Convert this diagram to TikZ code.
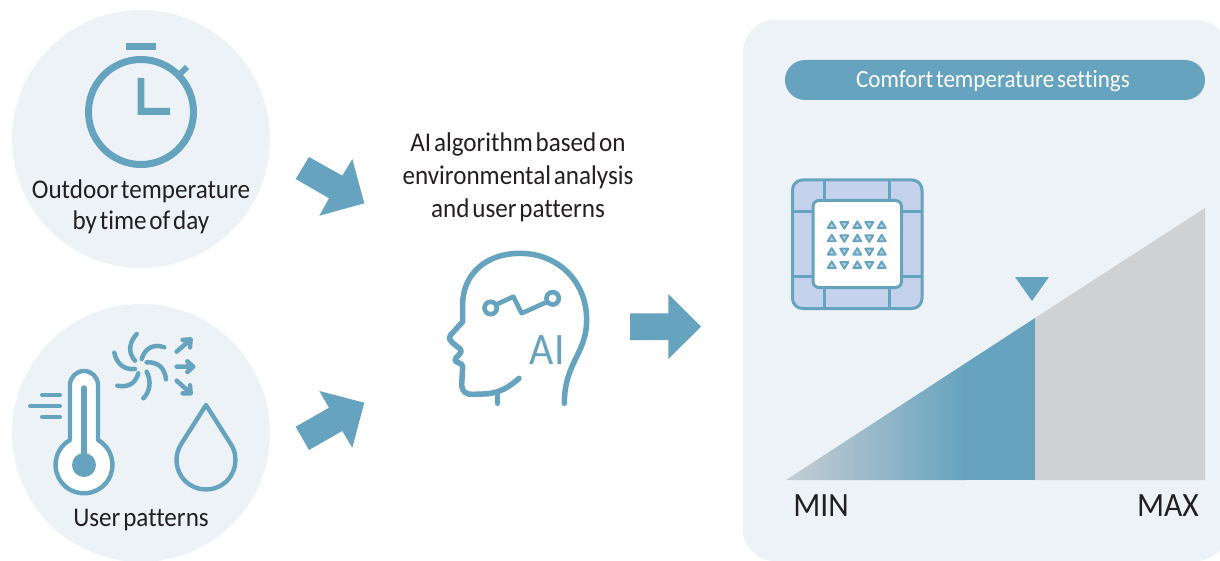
\documentclass[tikz,border=0pt]{standalone}
\usepackage{fontspec}
\setmainfont{Carlito}[WordSpace=0.5,FakeStretch=0.93,Ligatures=NoCommon]
\definecolor{bl}{HTML}{66A3BF}
\definecolor{pale}{HTML}{EDF2F7}
\definecolor{gry}{HTML}{D0D1D3}
\definecolor{ink}{HTML}{231F20}
\definecolor{tile}{HTML}{C5D2EB}
\definecolor{fade}{HTML}{C6CDD3}
\definecolor{tri}{HTML}{B5CFDF}
\tikzset{
  txt/.style={text=ink,align=center,inner sep=0pt,font=\fontsize{27}{31}\selectfont},
  glyph/.style={draw=bl,line cap=round,line join=round},
  bigarrow/.style={fill=bl,draw=none},
  up/.pic={\path[draw=bl,fill=tri,line width=1.9pt,line join=round] (-4,3)--(4,3)--(0,-3.6)--cycle;},
  down/.pic={\path[draw=bl,fill=tri,line width=1.9pt,line join=round] (-4,-3)--(4,-3)--(0,3.6)--cycle;}
}
\begin{document}
\begin{tikzpicture}[x=1pt,y=-1pt]
\useasboundingbox (0,0) rectangle (1220,561);
\clip (0,0) rectangle (1220,561);
% backgrounds
\fill[pale] (141,139) circle[radius=129pt];
\fill[pale] (141,433) circle[radius=129pt];
\fill[pale,rounded corners=32pt] (743,20) rectangle (1228,561);
% stopwatch
\draw[bl,line width=7pt] (141,112) circle[radius=52.5pt];
\fill[bl] (126,43) rectangle (156,50);
\draw[bl,line width=6pt] (180,74)--(187,67);
\fill[bl] (137.7,78) -- (144.3,78) -- (144.3,108) -- (170,108) -- (170,115) -- (137.7,115) -- cycle;
\node[txt] (t1) at (141,206.5) {Outdoor temperature\\by time of day};
% thermometer
\draw[glyph,line width=4.4pt,fill=white] (70,440)--(70,385) arc[start angle=180,end angle=0,radius=14pt]--(98,440) arc[start angle=60.6,end angle=-240.6,radius=28.5pt]--cycle;
\draw[glyph,line width=5.5pt] (84,388)--(84,460);
\fill[bl] (84,465) circle[radius=12pt];
\draw[glyph,line width=4pt] (42,395)--(60,395) (30,406)--(60,406) (42,417)--(60,417);
% drop
\draw[glyph,line width=4.4pt] (206,405) -- (230.7,443.9) arc[start angle=33.1,end angle=-213.1,radius=29.5pt] -- cycle;
% fan
\begin{scope}[shift={(0,290)},x=0.3333pt,y=-0.3333pt]
\draw[glyph,line width=4.5pt]
 (410,132) .. controls (385,160) and (385,190) .. (405,212)
 (493,172) .. controls (460,160) and (435,175) .. (425,207)
 (440,217) .. controls (480,215) and (495,240) .. (498,268)
 (440,245) .. controls (455,275) and (450,305) .. (430,325)
 (415,250) .. controls (405,285) and (380,292) .. (352,287)
 (405,237) .. controls (370,240) and (350,220) .. (343,188);
\draw[glyph,line width=4.5pt]
 (530,185)--(568,152) (548,150)--(572,148)--(570,172)
 (530,230)--(578,230) (562,214)--(580,230)--(562,246)
 (530,272)--(568,306) (548,310)--(572,310)--(570,286);
\end{scope}
\node[txt] (t2) at (141,520.5) {User patterns};
% big arrows
\fill[bigarrow] (309,157)--(342.3,175.7)--(352.3,159)--(364.3,203.3)--(319.3,215.7)--(329,198.3)--(295.7,179)--cycle;
\fill[bigarrow] (295.7,426.7)--(329,407.7)--(319.3,391)--(364.3,402.7)--(352.3,447.7)--(342.3,431)--(309,450)--cycle;
\fill[bigarrow] (630,313.3)--(668.3,313.3)--(668.3,294)--(701,326.7)--(668.3,359)--(668.3,340)--(630,340)--cycle;
% centre text
\node[txt,font=\fontsize{27}{33}\selectfont] (t3) at (518,177) {AI algorithm based on\\environmental analysis\\and user patterns};
% head
\begin{scope}[shift={(420,240)},x=0.3333pt,y=-0.3333pt]
\draw[glyph,line width=5.5pt]
 (433,490) .. controls (433,430) and (450,390) .. (470,350) .. controls (490,310) and (500,280) .. (500,240)
 .. controls (500,120) and (410,40) .. (300,40) .. controls (200,40) and (130,100) .. (128,190)
 -- (128,245) -- (92,285) .. controls (85,295) and (90,302) .. (97,308) -- (122,328)
 .. controls (130,340) and (105,350) .. (105,360) .. controls (105,368) and (128,368) .. (128,380)
 -- (125,435) .. controls (125,455) and (140,465) .. (160,463) -- (190,462)
 .. controls (235,462) and (270,440) .. (297,415);
\draw[glyph,line width=5.5pt] (232,462)--(232,490);
\draw[glyph,line width=4.6pt] (226,195)--(280,170)--(305,220)--(385,184);
\draw[glyph,line width=4.6pt,fill=white] (212,204) circle[radius=6.2pt];
\draw[glyph,line width=4.6pt,fill=white] (398,175) circle[radius=6.2pt];
\node[text=bl,inner sep=0pt,font=\fontsize{45}{45}\selectfont] (ai) at (382,330) {AI};
\end{scope}
% pill
\node[fill=bl,rounded corners=20pt,minimum width=420pt,minimum height=40pt,inner sep=0pt] (pill) at (995,80) {};
\node[text=white,inner sep=0pt,font=\fontsize{24.8}{24.8}\selectfont] (pilltext) at (993,81.5) {Comfort temperature settings};
% tile
\draw[bl,line width=3pt,fill=tile,rounded corners=10pt] (792.5,180) rectangle (922,308.5);
\draw[bl,line width=3pt] (824.3,180)--(824.3,308.5) (889,180)--(889,308.5) (792.5,211.7)--(922,211.7) (792.5,276.7)--(922,276.7);
\draw[bl,line width=3pt,fill=white,rounded corners=6pt] (813,200.5) rectangle (901.5,287.5);
\foreach \yy in {225,238.3,251.7,265}{
  \foreach \xx in {831.7,857.3,881.7}{\pic at (\xx,\yy) {up};}
  \foreach \xx in {844.3,869.3}{\pic at (\xx,\yy) {down};}
}
% scale
\fill[gry] (1035,318)--(1205,208)--(1205,480)--(1035,480)--cycle;
\begin{scope}
\clip (786,480)--(1035,318)--(1035,480)--cycle;
\shade[left color=fade,right color=bl] (786,318) rectangle (965,480);
\fill[bl] (964.5,318) rectangle (1035,480);
\end{scope}
\fill[bl] (1015,277)--(1049,277)--(1032,301)--cycle;
\node[txt,font=\fontsize{34}{34}\selectfont] (mn) at (821,506) {MIN};
\node[txt,font=\fontsize{34}{34}\selectfont] (mx) at (1168,506) {MAX};
\end{tikzpicture}
\end{document}
